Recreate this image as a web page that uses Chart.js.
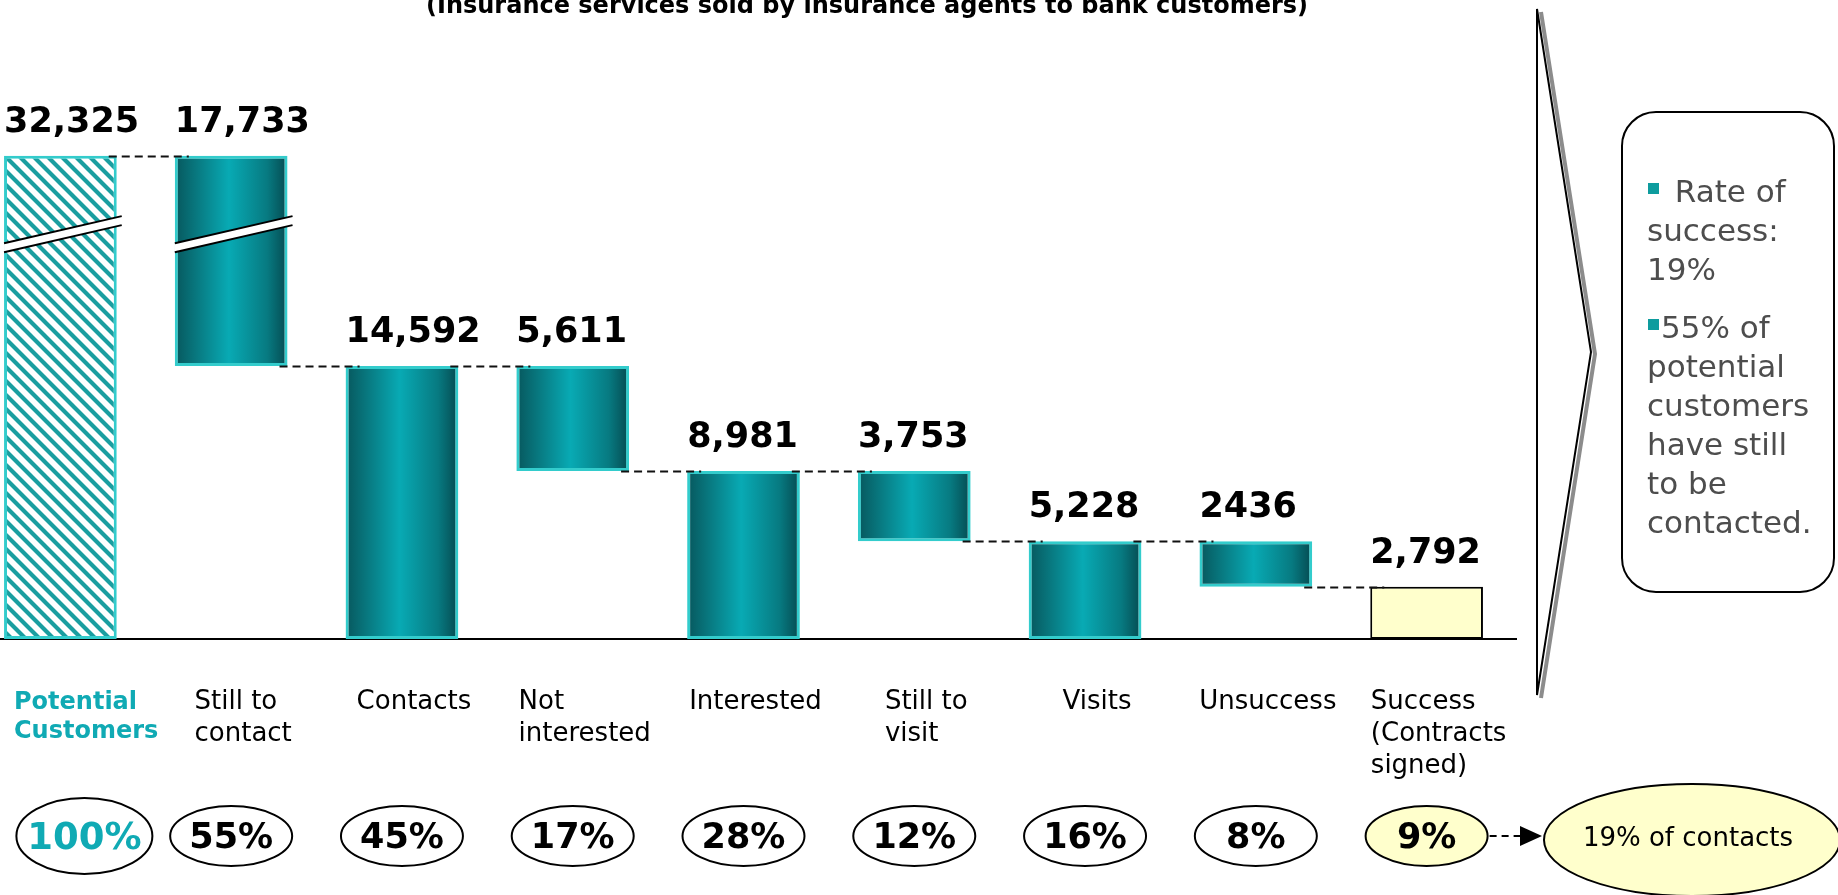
<!DOCTYPE html>
<html>
<head>
<meta charset="utf-8">
<script src="https://cdn.jsdelivr.net/npm/chart.js@4.4.1/dist/chart.umd.min.js"></script>
<style>
html, body { margin: 0; padding: 0; background: #fff; overflow: hidden; }
#wrap { position: absolute; left: -25px; top: 0; width: 1863px; height: 895px; }
</style>
</head>
<body>
<div id="wrap"><canvas id="myChart"></canvas></div>
<script>
// data
const stages = [['Potential', 'Customers'], ['Still to', 'contact'], ['Contacts'], ['Not', 'interested'], ['Interested'], ['Still to', 'visit'], ['Visits'], ['Unsuccess'], ['Success', '(Contracts', 'signed)']];
const counts = [32325, 17733, 14592, 5611, 8981, 3753, 5228, 2436, 2792];
const countText = ['32,325', '17,733', '14,592', '5,611', '8,981', '3,753', '5,228', '2436', '2,792'];
const shares = ['100%', '55%', '45%', '17%', '28%', '12%', '16%', '8%', '9%'];
const kinds = ['total', 'step', 'total', 'step', 'total', 'step', 'total', 'step', 'total'];
const axisBreak = [21600, 28100]; // part of the value axis that is cut out

const title = '(Insurance services sold by insurance agents to bank customers)';
const contactRate = '19% of contacts';
const noteLines = [' Rate of', 'success:', '19%', '55% of', 'potential', 'customers', 'have still', 'to be', 'contacted.'];
const noteBullets = [0, 3];

// waterfall: totals stand on the axis, steps hang from the previous total
let ranges = [];
let level = 0;
counts.forEach((v, i) => {
  if (kinds[i] === 'total') {
    ranges.push([0, v]);
    level = v;
  } else {
    ranges.push([level - v, level]);
  }
});
const gap = axisBreak[1] - axisBreak[0];
const shown = v => v > axisBreak[1] ? v - gap : v;
const shownRanges = ranges.map(r => r.map(shown));

const TEAL = '#10AAB4';
const pageShift = 25; // canvas begins 25px left of the page

const canvas = document.getElementById('myChart');
const mainCtx = canvas.getContext('2d');

function makeHatch() {
  const s = 14;
  const c = document.createElement('canvas');
  c.width = s; c.height = s;
  const p = c.getContext('2d');
  p.fillStyle = '#fff';
  p.fillRect(0, 0, s, s);
  p.strokeStyle = '#1A9EA0';
  p.lineWidth = 4.2;
  p.beginPath();
  p.moveTo(-s, -s); p.lineTo(2 * s, 2 * s);
  p.moveTo(-s, 0); p.lineTo(s, 2 * s);
  p.moveTo(0, -s); p.lineTo(2 * s, s);
  p.stroke();
  return mainCtx.createPattern(c, 'repeat');
}
const hatch = makeHatch();

function barHalf(chart) {
  return chart.scales.x.width / counts.length * 0.66 / 2;
}

function barFill(context) {
  const i = context.dataIndex;
  if (i === 0) return hatch;
  if (i === counts.length - 1) return '#FFFFCC';
  const chart = context.chart;
  if (!chart.chartArea || !chart.scales.x) return '#069EA8';
  const x = chart.scales.x.getPixelForValue(i);
  const h = barHalf(chart);
  const g = chart.ctx.createLinearGradient(x - h, 0, x + h, 0);
  g.addColorStop(0, '#07575D');
  g.addColorStop(0.18, '#08767D');
  g.addColorStop(0.48, '#08AAB4');
  g.addColorStop(0.82, '#077A81');
  g.addColorStop(1, '#054A50');
  return g;
}

function ellipse(ctx, cx, cy, rx, ry, fill) {
  ctx.beginPath();
  ctx.ellipse(cx, cy, rx, ry, 0, 0, Math.PI * 2);
  ctx.fillStyle = fill;
  ctx.fill();
  ctx.strokeStyle = '#000';
  ctx.lineWidth = 2;
  ctx.stroke();
}

const overlay = {
  id: 'overlay',
  beforeDatasetsDraw(chart) {
    const { ctx, chartArea } = chart;
    ctx.save();
    ctx.strokeStyle = '#000';
    ctx.lineWidth = 2;
    ctx.beginPath();
    ctx.moveTo(chartArea.left, chartArea.bottom);
    ctx.lineTo(chartArea.right + 5, chartArea.bottom);
    ctx.stroke();
    ctx.restore();
  },
  afterDatasetsDraw(chart) {
    const { ctx } = chart;
    const xs = chart.scales.x, ys = chart.scales.y;
    const half = barHalf(chart);
    ctx.save();

    // break marks on bars that run through the cut
    const yb = ys.getPixelForValue(axisBreak[0]);
    ranges.forEach((r, i) => {
      if (!(r[0] < axisBreak[0] && r[1] > axisBreak[1])) return;
      const xc = xs.getPixelForValue(i);
      const l = xc - half, rt = xc + half + 5;
      const yAt = (x, off) => yb - (x - xc) * 0.23 + off;
      ctx.fillStyle = '#fff';
      ctx.beginPath();
      ctx.moveTo(l, yAt(l, -4.5)); ctx.lineTo(rt, yAt(rt, -4.5));
      ctx.lineTo(rt, yAt(rt, 4.5)); ctx.lineTo(l, yAt(l, 4.5));
      ctx.closePath();
      ctx.fill();
      ctx.strokeStyle = '#000';
      ctx.lineWidth = 2;
      [-4.5, 4.5].forEach(off => {
        ctx.beginPath();
        ctx.moveTo(l, yAt(l, off));
        ctx.lineTo(rt, yAt(rt, off));
        ctx.stroke();
      });
    });

    // dashed connectors
    ctx.strokeStyle = '#111';
    ctx.lineWidth = 2;
    ctx.setLineDash([8, 5]);
    for (let i = 0; i < counts.length - 1; i++) {
      const lv = kinds[i + 1] === 'total' ? shownRanges[i + 1][1] : shownRanges[i][1];
      const y = Math.round(ys.getPixelForValue(lv)) + 0.5;
      const x0 = xs.getPixelForValue(i) + half - 8;
      const x1 = xs.getPixelForValue(i + 1) - half + 14;
      ctx.beginPath();
      ctx.moveTo(x0, y);
      ctx.lineTo(x1, y);
      ctx.stroke();
    }
    ctx.setLineDash([]);

    // value labels
    ctx.fillStyle = '#000';
    ctx.font = 'bold 35px "DejaVu Sans"';
    ctx.textAlign = 'left';
    ctx.textBaseline = 'alphabetic';
    countText.forEach((t, i) => {
      const xc = xs.getPixelForValue(i);
      const top = ys.getPixelForValue(shownRanges[i][1]);
      ctx.fillText(t, xc - half, top - 24);
    });

    // stage names
    stages.forEach((lines, i) => {
      const first = i === 0;
      ctx.font = first ? 'bold 24px "DejaVu Sans"' : '26px "DejaVu Sans"';
      ctx.fillStyle = first ? TEAL : '#000';
      const pitch = first ? 29 : 32;
      const w = Math.max(...lines.map(s => ctx.measureText(s).width));
      let x = xs.getPixelForValue(i) + 12 - w / 2;
      x = Math.max(x, 14 + pageShift);
      lines.forEach((s, k) => ctx.fillText(s, x, 709 + k * pitch));
    });

    // share ellipses
    ctx.textAlign = 'center';
    shares.forEach((s, i) => {
      const first = i === 0;
      const last = i === shares.length - 1;
      const cx = xs.getPixelForValue(i) + (first ? 24 : 0);
      ellipse(ctx, cx, 836, first ? 68 : 61, first ? 38 : 30, last ? '#FFFFCC' : '#fff');
      ctx.font = first ? 'bold 37px "DejaVu Sans"' : 'bold 35px "DejaVu Sans"';
      ctx.fillStyle = first ? TEAL : '#000';
      ctx.fillText(s, cx, first ? 849 : 848);
    });

    // arrow from the last share to the contact rate
    const lastX = xs.getPixelForValue(shares.length - 1) + 61 - pageShift;
    ctx.translate(pageShift, 0);
    ctx.strokeStyle = '#000';
    ctx.lineWidth = 2;
    ctx.setLineDash([7, 5]);
    ctx.beginPath();
    ctx.moveTo(lastX + 2, 836);
    ctx.lineTo(1522, 836);
    ctx.stroke();
    ctx.setLineDash([]);
    ctx.fillStyle = '#000';
    ctx.beginPath();
    ctx.moveTo(1520, 826); ctx.lineTo(1542, 836); ctx.lineTo(1520, 846);
    ctx.closePath();
    ctx.fill();
    ellipse(ctx, 1692, 840, 148, 56, '#FFFFCC');
    ctx.font = '26px "DejaVu Sans"';
    ctx.fillStyle = '#000';
    ctx.fillText(contactRate, 1688, 846);

    // title (cut at the top edge)
    ctx.font = 'bold 24px "DejaVu Sans"';
    ctx.fillText(title, 867, 13);

    // chevron
    ctx.lineJoin = 'miter';
    ctx.strokeStyle = '#8C8C8C';
    ctx.lineWidth = 4;
    ctx.beginPath();
    ctx.moveTo(1541, 12); ctx.lineTo(1595, 354); ctx.lineTo(1541, 698);
    ctx.stroke();
    ctx.strokeStyle = '#000';
    ctx.lineWidth = 2;
    ctx.beginPath();
    ctx.moveTo(1537, 9); ctx.lineTo(1591, 352); ctx.lineTo(1537, 695);
    ctx.closePath();
    ctx.stroke();

    // note box
    ctx.beginPath();
    ctx.roundRect(1622, 112, 212, 480, 34);
    ctx.fillStyle = '#fff';
    ctx.fill();
    ctx.strokeStyle = '#000';
    ctx.lineWidth = 2;
    ctx.stroke();
    ctx.textAlign = 'left';
    ctx.font = '31px "DejaVu Sans"';
    let y = 202;
    noteLines.forEach((s, k) => {
      if (k === 3) y += 19;
      let x = 1647;
      if (noteBullets.includes(k)) {
        ctx.fillStyle = '#0E9C9E';
        ctx.fillRect(1648, y - 19, 11, 11);
        x = k === 0 ? 1665 : 1661;
      }
      ctx.fillStyle = '#4D4D4D';
      ctx.fillText(s, x, y);
      y += 39;
    });

    ctx.restore();
  }
};

const myChart = new Chart(canvas, {
  type: 'bar',
  data: {
    labels: stages,
    datasets: [{
      data: shownRanges,
      backgroundColor: barFill,
      borderColor: c => c.dataIndex === counts.length - 1 ? '#000' : '#33CCCC',
      borderWidth: c => c.dataIndex === counts.length - 1 ? 2 : 3,
      borderSkipped: false,
      barPercentage: 0.66,
      categoryPercentage: 1
    }]
  },
  options: {
    responsive: true,
    maintainAspectRatio: false,
    animation: false,
    layout: { padding: { left: 0, right: 326, top: 100, bottom: 256 } },
    scales: {
      x: { display: false },
      y: { display: false, min: 0, max: 28800 }
    },
    plugins: {
      legend: { display: false },
      tooltip: { enabled: false }
    }
  },
  plugins: [overlay]
});
</script>
</body>
</html>
